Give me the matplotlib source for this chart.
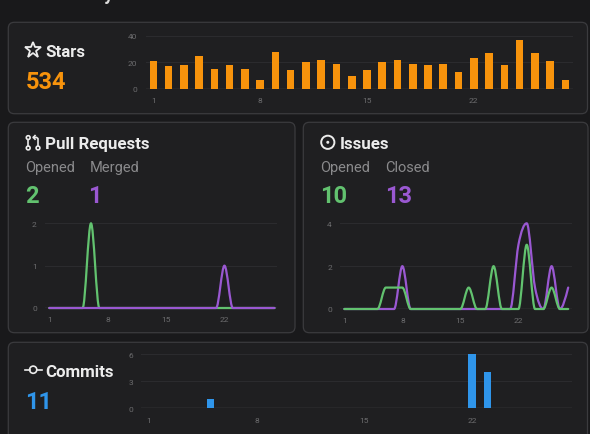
import matplotlib
matplotlib.use('Agg')
import matplotlib.pyplot as plt
import numpy as np
from matplotlib.patches import FancyBboxPatch, Circle, PathPatch
from matplotlib.path import Path

# ---------------- data ----------------
days = list(range(1, 29))
xticks = [1, 8, 15, 22]

stars = [21, 17, 18, 25, 15, 18, 15, 7, 28, 14, 20, 22, 19, 10,
         14, 20, 22, 19, 18, 19, 13, 23, 27, 18, 37, 27, 21, 7]
stars_yticks = [0, 20, 40]

pr_opened = [0, 0, 0, 0, 0, 2, 0, 0, 0, 0, 0, 0, 0, 0,
             0, 0, 0, 0, 0, 0, 0, 0, 0, 0, 0, 0, 0, 0]
pr_merged = [0, 0, 0, 0, 0, 0, 0, 0, 0, 0, 0, 0, 0, 0,
             0, 0, 0, 0, 0, 0, 0, 1, 0, 0, 0, 0, 0, 0]
pr_yticks = [0, 1, 2]

issues_opened = [0, 0, 0, 0, 0, 1, 1, 1, 0, 0, 0, 0, 0, 0,
                 0, 1, 0, 0, 2, 0, 0, 0, 3, 0, 0, 1, 0, 0]
issues_closed = [0, 0, 0, 0, 0, 0, 0, 2, 0, 0, 0, 0, 0, 0,
                 0, 0, 0, 0, 0, 0, 0, 3, 4, 1, 0, 2, 0, 1]
issues_yticks = [0, 2, 4]

commits = [0, 0, 0, 0, 1, 0, 0, 0, 0, 0, 0, 0, 0, 0,
           0, 0, 0, 0, 0, 0, 0, 6, 4, 0, 0, 0, 0, 0]
commits_yticks = [0, 3, 6]

# ---------------- style ----------------
W, H, DPI = 590, 435, 100
PAGE = '#19191b'
CARD = '#1f1f21'
BORDER = '#3b3b3e'
TITLE = '#ececec'
LABEL = '#8a8a8c'
TICK = '#6c6c6e'
GRID = '#2b2b2e'
BASE = '#4a4a4d'
ORANGE = '#f7930c'
GREEN = '#62c26f'
PURPLE = '#9a58d2'
BLUE = '#2f95ea'
FONT = 'Roboto'

plt.rcParams['font.family'] = [FONT, 'DejaVu Sans']

fig = plt.figure(figsize=(W / DPI, H / DPI), dpi=DPI, facecolor=PAGE)
bg = fig.add_axes([0, 0, 1, 1], zorder=0)
bg.set_xlim(0, W)
bg.set_ylim(H, 0)
bg.axis('off')
bg.set_facecolor(PAGE)


def card(x0, y0, x1, y1):
    bg.add_patch(FancyBboxPatch((x0, y0), x1 - x0, y1 - y0,
                                boxstyle='round,pad=0,rounding_size=6',
                                fc=CARD, ec=BORDER, lw=0.9))


def px_axes(left, top, right, bottom):
    ax = fig.add_axes([left / W, 1 - bottom / H, (right - left) / W, (bottom - top) / H],
                      zorder=2)
    ax.set_facecolor('none')
    for s in ax.spines.values():
        s.set_visible(False)
    ax.tick_params(length=0, pad=6, labelsize=6, labelcolor=TICK)
    return ax


def style_axes(ax, xlim, yticks):
    ax.set_xlim(*xlim)
    ax.set_ylim(yticks[0], yticks[-1])
    ax.set_xticks(xticks)
    ax.set_yticks(yticks)
    for t in yticks[1:]:
        ax.axhline(t, color=GRID, lw=0.8, zorder=0)
    ax.axhline(0, color=BASE, lw=1.0, zorder=1)


def monotone_path(x, y):
    x = np.asarray(x, float)
    y = np.asarray(y, float)
    n = len(x)
    h = np.diff(x)
    s = np.diff(y) / h
    t = np.zeros(n)
    for i in range(1, n - 1):
        s0, s1 = s[i - 1], s[i]
        p = (s0 * h[i] + s1 * h[i - 1]) / (h[i - 1] + h[i])
        sg0 = -1 if s0 < 0 else 1
        sg1 = -1 if s1 < 0 else 1
        t[i] = (sg0 + sg1) * min(abs(s0), abs(s1), 0.5 * abs(p))
    t[0] = (3 * s[0] - t[1]) / 2
    t[-1] = (3 * s[-1] - t[-2]) / 2
    verts = [(x[0], y[0])]
    codes = [Path.MOVETO]
    for i in range(n - 1):
        dx = h[i] / 3
        verts += [(x[i] + dx, y[i] + t[i] * dx),
                  (x[i + 1] - dx, y[i + 1] - t[i + 1] * dx),
                  (x[i + 1], y[i + 1])]
        codes += [Path.CURVE4] * 3
    return Path(verts, codes)


def line(ax, x, y, color):
    ax.add_patch(PathPatch(monotone_path(x, y), fc='none', ec=color, lw=1.6,
                           clip_on=False, zorder=3, capstyle='round', joinstyle='round'))


# ---------------- page title (cut off at top) ----------------
bg.text(20, 0.4, 'Last 28 days stats', fontsize=13, fontweight='bold', color='#dcdcdc',
        ha='left', va='baseline')

# ---------------- cards ----------------
card(8.3, 23.3, 587.5, 114.7)
card(8.3, 123.3, 295.0, 333.7)
card(303.3, 123.3, 588.0, 333.7)
card(8.3, 343.3, 587.5, 450)

# ---------------- Stars ----------------
bg.plot(33, 51, marker='*', ms=12, mfc='none', mec=TITLE, mew=1.3)
bg.text(45, 56.7, 'Stars', fontsize=12.2, fontweight='bold', color=TITLE, va='baseline')
bg.text(25.5, 89.3, str(sum(stars)), fontsize=17, fontweight='bold', color=ORANGE, va='baseline')

ax = px_axes(145.7, 36.7, 573.0, 90.0)
style_axes(ax, (0.5, 28.5), stars_yticks)
ax.bar(days, stars, width=0.5, color=ORANGE, zorder=2)

# ---------------- Pull Requests ----------------
# git-pull-request icon
c = TITLE
bg.add_patch(Circle((28.2, 138.6), 1.9, fc='none', ec=c, lw=1.2))
bg.add_patch(Circle((28.2, 149.0), 1.9, fc='none', ec=c, lw=1.2))
bg.plot([28.2, 28.2], [140.5, 147.1], color=c, lw=1.2)
bg.add_patch(Circle((38.0, 149.0), 1.9, fc='none', ec=c, lw=1.2))
bg.plot([38.0, 38.0, 36.5, 33.5], [147.1, 139.6, 138.4, 138.4], color=c, lw=1.2)
bg.plot([35.0, 33.3, 35.0], [136.6, 138.4, 140.2], color=c, lw=1.2)

bg.text(45, 149.3, 'Pull Requests', fontsize=12.2, fontweight='bold', color=TITLE, va='baseline')
bg.text(25, 171.7, 'Opened', fontsize=10.5, color=LABEL, va='baseline')
bg.text(90, 171.7, 'Merged', fontsize=10.5, color=LABEL, va='baseline')
bg.text(25.5, 202.7, str(sum(pr_opened)), fontsize=17, fontweight='bold', color=GREEN, va='baseline')
bg.text(88.5, 202.7, str(sum(pr_merged)), fontsize=17, fontweight='bold', color=PURPLE, va='baseline')

ax = px_axes(45.1, 224.3, 276.6, 309.0)
style_axes(ax, (0.5, 28.25), pr_yticks)
line(ax, days, pr_opened, GREEN)
line(ax, days, pr_merged, PURPLE)

# ---------------- Issues ----------------
bg.add_patch(Circle((327.8, 143.3), 6.6, fc='none', ec=TITLE, lw=1.4))
bg.add_patch(Circle((327.8, 143.3), 1.5, fc=TITLE, ec='none'))
bg.text(340, 149.3, 'Issues', fontsize=12.2, fontweight='bold', color=TITLE, va='baseline')
bg.text(320.5, 171.7, 'Opened', fontsize=10.5, color=LABEL, va='baseline')
bg.text(385, 171.7, 'Closed', fontsize=10.5, color=LABEL, va='baseline')
bg.text(320.5, 202.7, str(sum(issues_opened)), fontsize=17, fontweight='bold', color=GREEN, va='baseline')
bg.text(385.5, 202.7, str(sum(issues_closed)), fontsize=17, fontweight='bold', color=PURPLE, va='baseline')

ax = px_axes(340.2, 224.3, 571.5, 310.0)
style_axes(ax, (0.5, 28.4), issues_yticks)
line(ax, days, issues_closed, PURPLE)
line(ax, days, issues_opened, GREEN)

# ---------------- Commits ----------------
bg.plot([25, 29.5], [370.7, 370.7], color=TITLE, lw=1.2)
bg.plot([37.0, 41.7], [370.7, 370.7], color=TITLE, lw=1.2)
bg.add_patch(Circle((33.2, 370.7), 3.6, fc='none', ec=TITLE, lw=1.2))
bg.text(45, 376.6, 'Commits', fontsize=12.2, fontweight='bold', color=TITLE, va='baseline')
bg.text(25.5, 409.3, str(sum(commits)), fontsize=17, fontweight='bold', color=BLUE, va='baseline')

ax = px_axes(141.3, 355.0, 572.2, 409.3)
style_axes(ax, (0.5, 28.5), commits_yticks)
ax.bar(days, commits, width=0.5, color=BLUE, zorder=2)

fig.savefig('out.png', dpi=DPI, facecolor=PAGE)
